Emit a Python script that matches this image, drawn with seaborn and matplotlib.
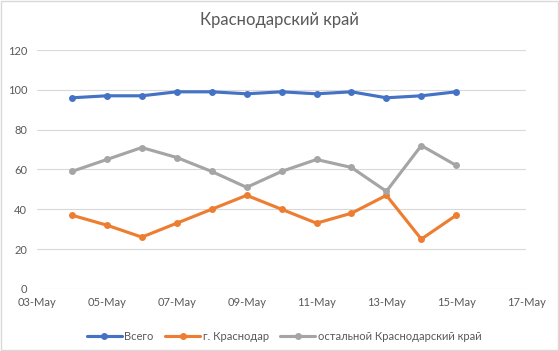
import pandas as pd
import numpy as np
import matplotlib
matplotlib.use("Agg")
import matplotlib.pyplot as plt
import matplotlib.dates as mdates
import seaborn as sns

# Data
dates = pd.date_range("2020-05-04", "2020-05-15", freq="D")
total = [96, 97, 97, 99, 99, 98, 99, 98, 99, 96, 97, 99]
krasnodar = [37, 32, 26, 33, 40, 47, 40, 33, 38, 47, 25, 37]
rest = [59, 65, 71, 66, 59, 51, 59, 65, 61, 49, 72, 62]
series_names = ["Всего", "г. Краснодар", "остальной Краснодарский край"]
colors = ["#4472C4", "#ED7D31", "#A5A5A5"]

df = pd.DataFrame({"date": dates, series_names[0]: total,
                   series_names[1]: krasnodar, series_names[2]: rest})
df_long = df.melt(id_vars="date", var_name="series", value_name="value")

sns.set_style("white")
plt.rcParams["font.family"] = ["Lato", "DejaVu Sans"]

fig = plt.figure(figsize=(5.59, 3.51), dpi=100)
ax = fig.add_axes([0.0662, 0.177, 0.875, 0.6805])

sns.lineplot(data=df_long, x="date", y="value", hue="series",
             hue_order=series_names, palette=colors, marker="o",
             markersize=5, markeredgewidth=0, linewidth=2.25, ax=ax)

ax.set_xlim(pd.Timestamp("2020-05-03"), pd.Timestamp("2020-05-17"))
ax.set_ylim(0, 120)
ax.set_yticks(range(0, 121, 20))
ax.set_xticks(pd.date_range("2020-05-03", "2020-05-17", freq="2D"))
ax.xaxis.set_major_formatter(mdates.DateFormatter("%d-%b"))
ax.grid(axis="y", color="#D9D9D9", linewidth=0.8)
ax.set_axisbelow(True)
for s in ax.spines.values():
    s.set_visible(False)
ax.tick_params(axis="both", length=0, labelsize=8, colors="#595959")
ax.tick_params(axis="y", pad=7)
ax.tick_params(axis="x", pad=6)
ax.set_xlabel("")
ax.set_ylabel("")

handles, labels = ax.get_legend_handles_labels()
ax.legend_.remove()
fig.legend(handles, labels, loc="center", bbox_to_anchor=(284 / 559, 1 - 336 / 351),
           ncol=3, frameon=False, fontsize=8, labelcolor="#595959",
           handlelength=3.2, columnspacing=1.0, handletextpad=0.2)

fig.suptitle("Краснодарский край", y=0.965, fontsize=12, color="#595959")

# light outer border
fig.patches.append(plt.Rectangle((0.002, 0.002), 0.996, 0.996, transform=fig.transFigure,
                                 fill=False, edgecolor="#D9D9D9", linewidth=1))

fig.savefig("out.png", dpi=100)
